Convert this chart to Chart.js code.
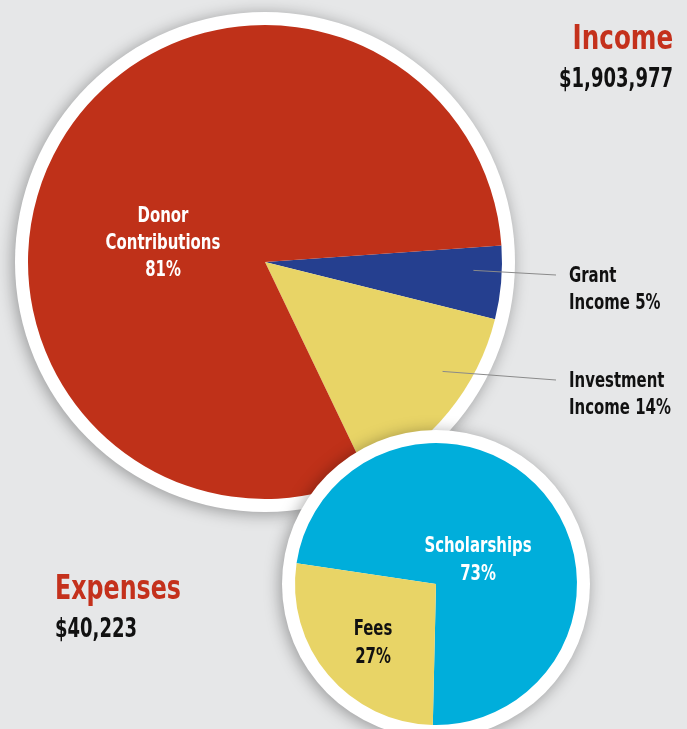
<!DOCTYPE html>
<html>
<head>
<meta charset="utf-8">
<script src="https://cdn.jsdelivr.net/npm/chart.js@4.4.0/dist/chart.umd.min.js"></script>
<style>
html, body { margin: 0; padding: 0; }
body {
    width: 687px; height: 729px; background: #e6e7e8; position: relative; overflow: hidden;
    font-family: "Liberation Sans Narrow", "DejaVu Sans Condensed", sans-serif; font-weight: bold;
}
canvas { position: absolute; left: 0; top: 0; }
.heading { position: absolute; color: #c4311c; font-size: 33px; line-height: 1; white-space: nowrap; }
.amount { position: absolute; color: #111; font-size: 26px; line-height: 1; white-space: nowrap; }
.right { transform-origin: right top; }
.left { transform-origin: left top; }
</style>
</head>
<body>
<canvas id="incomeChart" width="687" height="729"></canvas>
<canvas id="expenseChart" width="687" height="729"></canvas>
<div class="heading right" style="right:14px; top:21px; transform:scaleX(0.83);">Income</div>
<div class="amount right" style="right:14px; top:65px; transform:scaleX(0.77);">$1,903,977</div>
<div class="heading left" style="left:55px; top:571px; transform:scaleX(0.8);">Expenses</div>
<div class="amount left" style="left:55px; top:615px; transform:scaleX(0.77);">$40,223</div>

<script>
// income pie
const incomeLabels = ['Grant Income', 'Investment Income', 'Donor Contributions'];
const incomeValues = [5, 14, 81];
const incomeColors = ['#253f8f', '#e8d466', '#bf3119'];

// expenses pie
const expenseLabels = ['Scholarships', 'Fees'];
const expenseValues = [73, 27];
const expenseColors = ['#00aedb', '#e8d466'];

const FONT = '"Liberation Sans Narrow", "DejaVu Sans Condensed", sans-serif';
const SQUEEZE = 0.79; // condensed look of the original lettering

// white ring + drop shadow behind the pie
const ringPlugin = {
    id: 'ring',
    beforeDatasetsDraw(chart) {
        const arc = chart.getDatasetMeta(0).data[0];
        const ctx = chart.ctx;
        ctx.save();
        ctx.shadowColor = 'rgba(0,0,0,0.35)';
        ctx.shadowBlur = 16;
        ctx.shadowOffsetX = -2;
        ctx.shadowOffsetY = 2;
        ctx.fillStyle = '#fff';
        ctx.beginPath();
        ctx.arc(arc.x, arc.y, arc.outerRadius + 13, 0, Math.PI * 2);
        ctx.fill();
        ctx.restore();
    }
};

// slice labels; anchors are offsets from the pie centre
const sliceLabels = {
    id: 'sliceLabels',
    afterDatasetsDraw(chart, args, opts) {
        const ctx = chart.ctx;
        const meta = chart.getDatasetMeta(0);
        const values = chart.data.datasets[0].data;
        ctx.save();
        ctx.font = 'bold ' + opts.size + 'px ' + FONT;
        ctx.textBaseline = 'alphabetic';
        meta.data.forEach((arc, i) => {
            const a = opts.anchors[i];
            const words = chart.data.labels[i].split(' ');
            let lines;
            if (a.outside) {
                lines = words.slice();
                lines[lines.length - 1] += ' ' + values[i] + '%';
            } else {
                lines = words.concat([values[i] + '%']);
            }
            const x = arc.x + a.dx;
            const y = arc.y + a.dy;
            if (a.outside) {
                const ang = arc.startAngle + 0.35 * (arc.endAngle - arc.startAngle);
                const r = arc.outerRadius * 0.88;
                ctx.strokeStyle = '#8a8a8a';
                ctx.lineWidth = 1;
                ctx.beginPath();
                ctx.moveTo(arc.x + r * Math.cos(ang), arc.y + r * Math.sin(ang));
                ctx.lineTo(x - 13, y - 7);
                ctx.stroke();
                ctx.textAlign = 'left';
            } else {
                ctx.textAlign = 'center';
            }
            ctx.fillStyle = a.color;
            lines.forEach((t, k) => {
                ctx.save();
                ctx.translate(x, y + k * opts.lineHeight);
                ctx.scale(SQUEEZE, 1);
                ctx.fillText(t, 0, 0);
                ctx.restore();
            });
        });
        ctx.restore();
    }
};

new Chart(document.getElementById('incomeChart'), {
    type: 'pie',
    data: {
        labels: incomeLabels,
        datasets: [{ data: incomeValues, backgroundColor: incomeColors, borderWidth: 0 }]
    },
    plugins: [ringPlugin, sliceLabels],
    options: {
        responsive: false,
        animation: false,
        events: [],
        rotation: 86,
        layout: { padding: { left: 28, top: 25, right: 185, bottom: 230 } },
        plugins: {
            legend: { display: false },
            tooltip: { enabled: false },
            sliceLabels: {
                size: 21,
                lineHeight: 27,
                anchors: [
                    { dx: 304, dy: 20, color: '#111', outside: true },
                    { dx: 304, dy: 125, color: '#111', outside: true },
                    { dx: -102, dy: -40, color: '#fff' }
                ]
            }
        }
    }
});

new Chart(document.getElementById('expenseChart'), {
    type: 'pie',
    data: {
        labels: expenseLabels,
        datasets: [{ data: expenseValues, backgroundColor: expenseColors, borderWidth: 0 }]
    },
    plugins: [ringPlugin, sliceLabels],
    options: {
        responsive: false,
        animation: false,
        events: [],
        rotation: 278.5,
        layout: { padding: { left: 295, top: 443, right: 110, bottom: 4 } },
        plugins: {
            legend: { display: false },
            tooltip: { enabled: false },
            sliceLabels: {
                size: 21,
                lineHeight: 28,
                anchors: [
                    { dx: 42, dy: -32, color: '#fff' },
                    { dx: -63, dy: 51, color: '#111' }
                ]
            }
        }
    }
});
</script>
</body>
</html>
